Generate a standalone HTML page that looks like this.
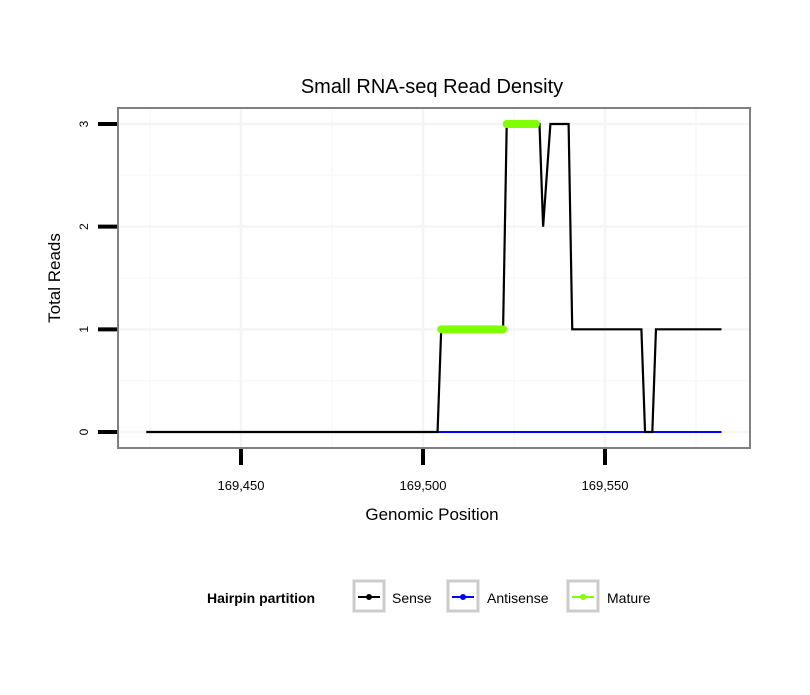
<!DOCTYPE html>
<html><head><meta charset="utf-8"><style>
body{margin:0;background:#fff;font-family:"Liberation Sans",sans-serif}
</style></head><body>
<svg id="chart" width="810" height="690" xmlns="http://www.w3.org/2000/svg" font-family="Liberation Sans, sans-serif">
<rect width="810" height="690" fill="#fff"/>
<text x="432" y="93" font-size="20" text-anchor="middle">Small RNA-seq Read Density</text>
<g id="grid"></g>
<g id="marks"></g>
<rect x="118" y="108" width="632" height="340" fill="none" stroke="#808080" stroke-width="2"/>
<g id="axes"></g>
<text x="432" y="520" font-size="17" text-anchor="middle">Genomic Position</text>
<text transform="translate(60,278) rotate(-90)" font-size="17" text-anchor="middle">Total Reads</text>
<g>
<text x="207" y="603" font-size="14" font-weight="bold">Hairpin partition</text>
<g><rect x="354" y="581" width="30" height="30" fill="#fff" stroke="#cccccc" stroke-width="3"/><line x1="358" y1="597" x2="380" y2="597" stroke="#000" stroke-width="2"/><circle cx="369" cy="597" r="3" fill="#000"/><text x="392" y="603" font-size="14">Sense</text></g>
<g><rect x="448" y="581" width="30" height="30" fill="#fff" stroke="#cccccc" stroke-width="3"/><line x1="452" y1="597" x2="474" y2="597" stroke="#0000ff" stroke-width="2"/><circle cx="463" cy="597" r="3" fill="#0000ff"/><text x="487" y="603" font-size="14">Antisense</text></g>
<g><rect x="568" y="581" width="30" height="30" fill="#fff" stroke="#cccccc" stroke-width="3"/><line x1="572" y1="597" x2="594" y2="597" stroke="#7fff00" stroke-width="2"/><circle cx="583" cy="597" r="3" fill="#7fff00"/><text x="607" y="603" font-size="14">Mature</text></g>
</g>
</svg>
<script>
const senseX=[169424,169504,169505,169522,169523,169532,169533,169535,169540,169541,169560,169561,169563,169564,169582];
const senseY=[0,0,1,1,3,3,2,3,3,1,1,0,0,1,1];
const antiX=[169424,169582];
const antiY=[0,0];
const matureSegX1=[169505,169523];
const matureSegX2=[169522,169531];
const matureSegY=[1,3];
const xTicks=[169450,169500,169550];
const xTickLabels=["169,450","169,500","169,550"];
const xMinor=[169425,169475,169525,169575];
const yTicks=[0,1,2,3];
const yMinor=[0.5,1.5,2.5];
const NS="http://www.w3.org/2000/svg";
const sx=v=>423+(v-169500)*3.64;
const sy=v=>432-v*102.67;
function mk(parent,tag,attrs){const e=document.createElementNS(NS,tag);for(const k in attrs)e.setAttribute(k,attrs[k]);parent.appendChild(e);return e;}
const grid=document.getElementById('grid'),marks=document.getElementById('marks'),axes=document.getElementById('axes');
xMinor.forEach(v=>{const l=mk(grid,'line',{x1:sx(v),x2:sx(v),y1:108,y2:448,stroke:'#f9f9f9','stroke-width':1.5});});
yMinor.forEach(v=>{const l=mk(grid,'line',{x1:118,x2:750,y1:sy(v),y2:sy(v),stroke:'#f9f9f9','stroke-width':1.5});});
xTicks.forEach(v=>{const l=mk(grid,'line',{x1:sx(v),x2:sx(v),y1:108,y2:448,stroke:'#f5f5f5','stroke-width':2.5});});
yTicks.forEach(v=>{const l=mk(grid,'line',{x1:118,x2:750,y1:sy(v),y2:sy(v),stroke:'#f5f5f5','stroke-width':2.5});});
const a=mk(marks,'polyline',{points:antiX.map((x,i)=>sx(x)+','+sy(antiY[i])).join(' '),fill:'none',stroke:'#0000ff','stroke-width':2});


const s=mk(marks,'polyline',{points:senseX.map((x,i)=>sx(x)+','+sy(senseY[i])).join(' '),fill:'none',stroke:'#000','stroke-width':2.2});


matureSegY.forEach((y,i)=>{const l=mk(marks,'line',{x1:sx(matureSegX1[i]),x2:sx(matureSegX2[i]),y1:sy(y),y2:sy(y),stroke:'#7fff00','stroke-width':8,'stroke-linecap':'round'});});
xTicks.forEach((v,i)=>{const l=mk(axes,'line',{x1:sx(v),x2:sx(v),y1:449,y2:465,stroke:'#000','stroke-width':4});
const t=mk(axes,'text',{x:sx(v),y:490,'font-size':13,'text-anchor':'middle'});t.textContent=xTickLabels[i];});
yTicks.forEach(v=>{const l=mk(axes,'line',{x1:98,x2:117,y1:sy(v),y2:sy(v),stroke:'#000','stroke-width':4});
const t=mk(axes,'text',{transform:`translate(88,${sy(v)}) rotate(-90)`,'font-size':12,'text-anchor':'middle'});t.textContent=String(v);});
</script>
</body></html>
